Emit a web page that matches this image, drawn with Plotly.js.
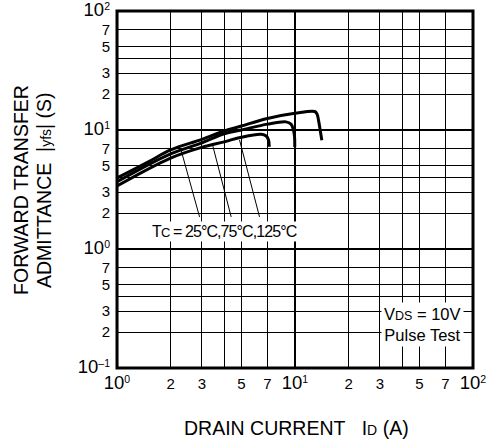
<!DOCTYPE html>
<html>
<head>
<meta charset="utf-8">
<script src="https://cdn.plot.ly/plotly-3.0.1.min.js"></script>
<style>
  html, body { margin: 0; padding: 0; background: #fff; }
  #chart { width: 497px; height: 441px; }
</style>
</head>
<body>
<div id="chart"></div>
<script>
// ---- Data ----
// Tc = 25°C (top curve)
const id25 = [1, 1.5, 2, 3, 4, 5, 7, 10, 12.9, 13.3, 13.55, 13.85, 14.15];
const yfs25 = [3.95, 5.4, 6.8, 8.35, 9.8, 10.8, 12.5, 13.8, 14.3, 13.6, 12.1, 10.0, 8.2];
// Tc = 75°C (middle curve)
const id75 = [1, 2, 3, 4, 5, 7, 8.9, 9.5, 9.8, 9.94, 9.97];
const yfs75 = [3.67, 6.3, 7.8, 9.3, 10.0, 11.2, 11.7, 11.2, 10.0, 8.8, 7.2];
// Tc = 125°C (bottom curve)
const id125 = [1, 2, 3, 4, 5, 6.46, 6.89, 7.1, 7.17];
const yfs125 = [3.38, 5.8, 7.15, 7.95, 8.7, 9.2, 8.9, 8.24, 7.23];

// leader lines from the Tc label to the curves
const leaderX = [[2.29, 2.91], [3.45, 4.38], [4.88, 6.32]];
const leaderY = [[6.79, 1.86], [7.4, 1.86], [8.24, 1.86]];

// axis ticks
const xTickVals = [1, 2, 3, 4, 5, 7, 10, 20, 30, 40, 50, 70, 100];
const xTickText = [
  '<span style="font-size:18.5px">10</span><sup>0</sup>', '2', '3', '', '5', '7',
  '<span style="font-size:18.5px">10</span><sup>1</sup>', '2', '3', '', '5', '7',
  '<span style="font-size:18.5px">10</span><sup>2</sup>'
];
const yTickVals = [0.1, 0.2, 0.3, 0.4, 0.5, 0.7, 1, 2, 3, 4, 5, 7, 10, 20, 30, 40, 50, 70, 100];
const yTickText = [
  '<span style="font-size:18.5px">10</span><sup>\u20131</sup>', '2', '3', '', '5', '7',
  '<span style="font-size:18.5px">10</span><sup>0</sup>', '2', '3', '', '5', '7',
  '<span style="font-size:18.5px">10</span><sup>1</sup>', '2', '3', '', '5', '7',
  '<span style="font-size:18.5px">10</span><sup>2</sup>'
];
const xDecades = [10];
const yDecades = [1, 10];

// ---- Traces ----
const curveStyle = { color: '#000', width: 3, shape: 'spline', smoothing: 1 };
const traces = [
  { x: id25, y: yfs25, mode: 'lines', line: curveStyle, hoverinfo: 'skip' },
  { x: id75, y: yfs75, mode: 'lines', line: curveStyle, hoverinfo: 'skip' },
  { x: id125, y: yfs125, mode: 'lines', line: curveStyle, hoverinfo: 'skip' }
];
leaderX.forEach((lx, i) => {
  traces.push({ x: lx, y: leaderY[i], mode: 'lines',
    line: { color: '#000', width: 1 }, hoverinfo: 'skip' });
});

// ---- Shapes: heavier decade grid lines and frame ----
const shapes = [];
xDecades.forEach(v => shapes.push({
  type: 'line', xref: 'x', yref: 'paper', x0: Math.log10(v), x1: Math.log10(v),
  y0: 0, y1: 1, line: { color: '#000', width: 2.2 }, layer: 'below'
}));
yDecades.forEach(v => shapes.push({
  type: 'line', xref: 'paper', yref: 'y', x0: 0, x1: 1,
  y0: Math.log10(v), y1: Math.log10(v), line: { color: '#000', width: 2.2 }, layer: 'below'
}));
shapes.push({
  type: 'rect', xref: 'paper', yref: 'paper', x0: 0, x1: 1, y0: 0, y1: 1,
  line: { color: '#000', width: 3 }, fillcolor: 'rgba(0,0,0,0)'
});

const FONT = 'Liberation Sans, Arial, Helvetica, sans-serif';
const NBSP = '\u00a0';

const layout = {
  width: 497, height: 441,
  margin: { l: 117, r: 24, t: 11, b: 73, pad: 0 },
  paper_bgcolor: '#fff', plot_bgcolor: '#fff',
  showlegend: false,
  font: { family: FONT, color: '#000', size: 15 },
  xaxis: {
    type: 'log', range: [0, 2], tickmode: 'array',
    tickvals: xTickVals, ticktext: xTickText,
    showgrid: true, gridcolor: '#000', gridwidth: 1.1,
    ticks: '', showline: false, zeroline: false,
    tickfont: { family: FONT, size: 15, color: '#000' },
    ticklabelstandoff: 5, ticklabeloverflow: 'allow', fixedrange: true
  },
  yaxis: {
    type: 'log', range: [-1, 2], tickmode: 'array',
    tickvals: yTickVals, ticktext: yTickText,
    showgrid: true, gridcolor: '#000', gridwidth: 1.1,
    ticks: '', showline: false, zeroline: false,
    tickfont: { family: FONT, size: 15, color: '#000' },
    ticklabelstandoff: 6, ticklabeloverflow: 'allow', fixedrange: true
  },
  shapes: shapes,
  annotations: [
    {
      xref: 'paper', yref: 'paper', x: 0.3006, y: 0.383,
      xanchor: 'center', yanchor: 'middle', showarrow: false,
      text: '<span style="letter-spacing:-0.9px">T<span style="font-size:13px">C</span> = 25°C,75°C,125°C</span>',
      font: { family: FONT, size: 16, color: '#000' },
      bgcolor: '#fff', borderpad: 1
    },
    {
      xref: 'paper', yref: 'paper', x: 0.857, y: 0.123,
      xanchor: 'center', yanchor: 'middle', showarrow: false, align: 'center',
      text: 'V<span style="font-size:12.5px">DS</span> = 10V<br>Pulse Test',
      font: { family: FONT, size: 16.5, color: '#000' },
      bgcolor: '#fff', borderpad: 2
    },
    {
      xref: 'paper', yref: 'paper', x: 0.505, y: -0.167,
      xanchor: 'center', yanchor: 'middle', showarrow: false,
      text: 'DRAIN CURRENT' + NBSP + NBSP + NBSP + 'I<span style="font-size:14px">D</span> (A)',
      font: { family: FONT, size: 19.5, color: '#000' }
    },
    {
      xref: 'paper', yref: 'paper', x: -0.27, y: 0.4986,
      xanchor: 'center', yanchor: 'middle', showarrow: false, textangle: -90,
      text: 'FORWARD TRANSFER',
      font: { family: FONT, size: 19.5, color: '#000' }
    },
    {
      xref: 'paper', yref: 'paper', x: -0.205, y: 0.4986,
      xanchor: 'center', yanchor: 'middle', showarrow: false, textangle: -90,
      text: 'ADMITTANCE' + NBSP + NBSP + '|<span style="font-size:14px">yfs</span>|' + NBSP + '(S)',
      font: { family: FONT, size: 19.5, color: '#000' }
    }
  ]
};

Plotly.newPlot('chart', traces, layout, { staticPlot: true, displayModeBar: false });
</script>
</body>
</html>
